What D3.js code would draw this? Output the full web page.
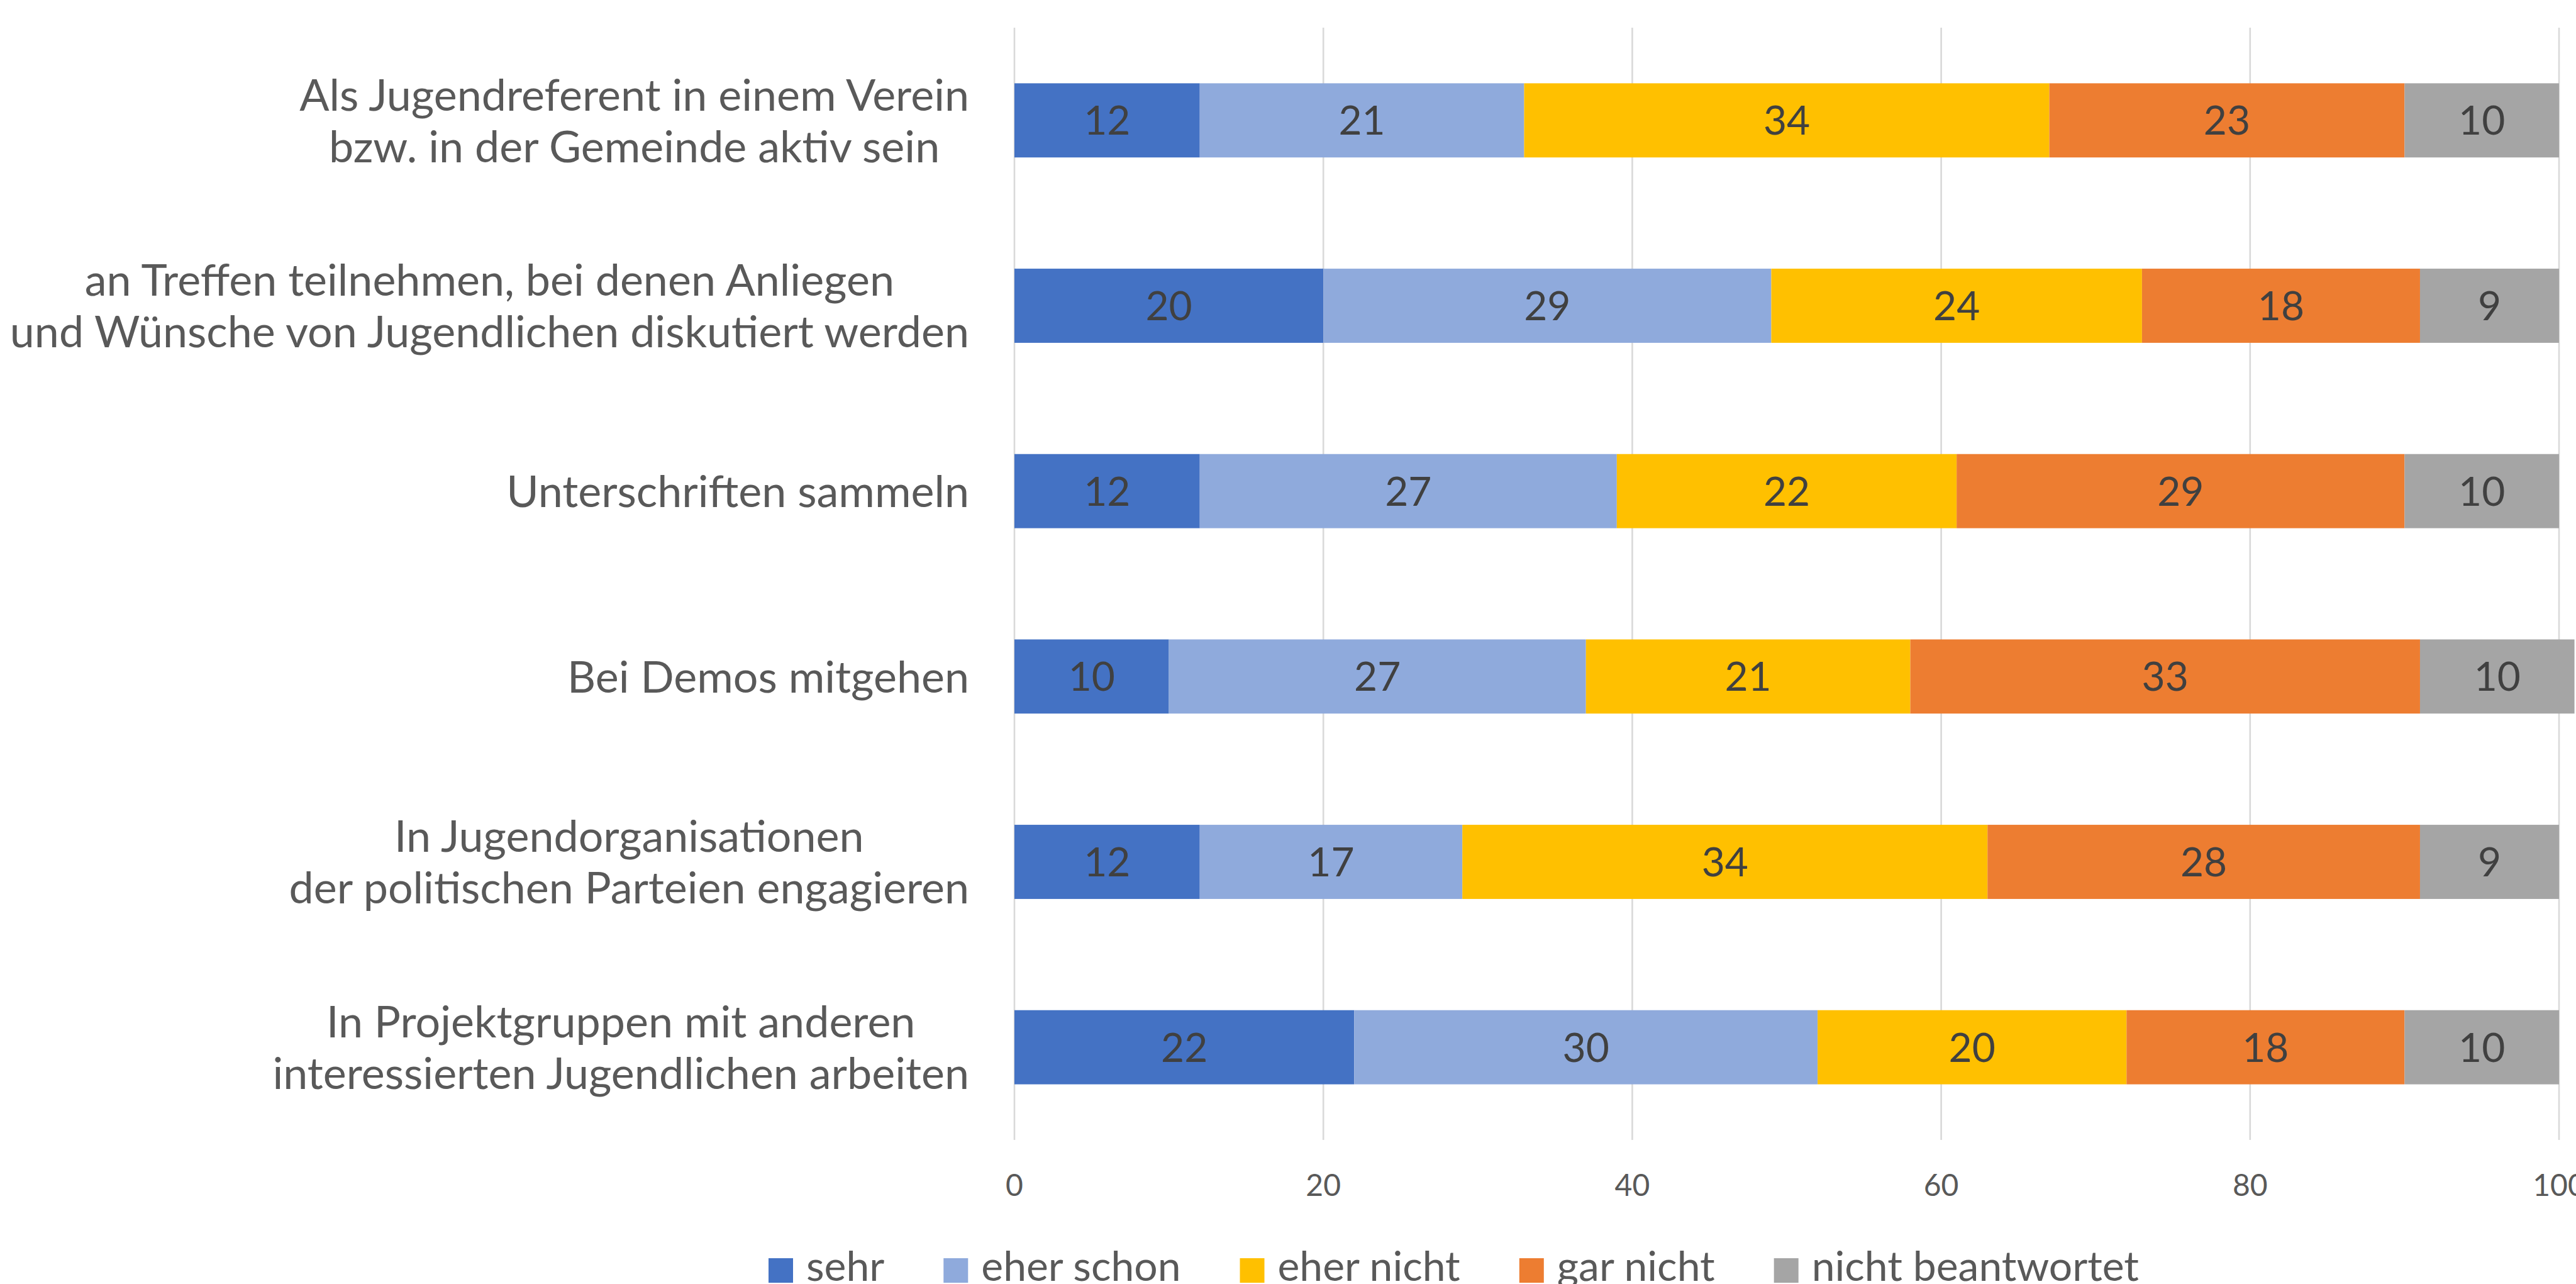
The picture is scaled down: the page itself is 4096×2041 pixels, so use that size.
<!DOCTYPE html>
<html><head><meta charset="utf-8">
<script src="https://cdn.jsdelivr.net/npm/d3@7"></script>
<style>html,body{margin:0;padding:0;background:#fff;overflow:hidden}</style>
</head><body>
<svg id="chart" width="4096" height="2041"></svg>
<script>
const categories = [
  ["Als Jugendreferent in einem Verein", "bzw. in der Gemeinde aktiv sein"],
  ["an Treffen teilnehmen, bei denen Anliegen", "und Wünsche von Jugendlichen diskutiert werden"],
  ["Unterschriften sammeln"],
  ["Bei Demos mitgehen"],
  ["In Jugendorganisationen", "der politischen Parteien engagieren"],
  ["In Projektgruppen mit anderen", "interessierten Jugendlichen arbeiten"]
];
const seriesNames = ["sehr", "eher schon", "eher nicht", "gar nicht", "nicht beantwortet"];
const seriesColors = ["#4472C4", "#8FAADC", "#FFC000", "#ED7D31", "#A5A5A5"];
const sehr = [12, 20, 12, 10, 12, 22];
const eherSchon = [21, 29, 27, 27, 17, 30];
const eherNicht = [34, 24, 22, 21, 34, 20];
const garNicht = [23, 18, 29, 33, 28, 18];
const nichtBeantwortet = [10, 9, 10, 10, 9, 10];
const tickValues = [0, 20, 40, 60, 80, 100];

const FONT = "Lato, 'Open Sans', sans-serif";
const svg = d3.select("#chart");
const W = 4096, H = 2041;
svg.append("rect").attr("width", W).attr("height", H).attr("fill", "#fff");

const x = d3.scaleLinear().domain([0, 100]).range([1613, 4069]);
const y = d3.scaleBand().domain(d3.range(categories.length)).range([44, 1812]).paddingInner(0.6).paddingOuter(0.3);

// gridlines
svg.append("g").selectAll("line").data(tickValues).join("line")
  .attr("x1", d => x(d)).attr("x2", d => x(d))
  .attr("y1", 44).attr("y2", 1812)
  .attr("stroke", "#d9d9d9").attr("stroke-width", 2.6);

// stacked data
const allSeries = [sehr, eherSchon, eherNicht, garNicht, nichtBeantwortet];
const rows = categories.map((c, i) => {
  const o = {idx: i};
  seriesNames.forEach((s, j) => o[s] = allSeries[j][i]);
  return o;
});
const stack = d3.stack().keys(seriesNames)(rows);

const gBars = svg.append("g");
stack.forEach((layer, j) => {
  const g = gBars.append("g").attr("fill", seriesColors[j]);
  g.selectAll("rect").data(layer).join("rect")
    .attr("x", d => x(d[0]))
    .attr("width", d => x(d[1]) - x(d[0]))
    .attr("y", (d, i) => y(i))
    .attr("height", y.bandwidth());
  g.selectAll("text").data(layer).join("text")
    .attr("x", d => (x(d[0]) + x(d[1])) / 2)
    .attr("y", (d, i) => y(i) + y.bandwidth() / 2)
    .attr("dy", "0.36em")
    .attr("text-anchor", "middle")
    .attr("font-family", FONT).attr("font-size", 64)
    .attr("fill", "#404040")
    .text(d => d[1] - d[0]);
});

// x tick labels
svg.append("g").selectAll("text").data(tickValues).join("text")
  .attr("x", d => x(d)).attr("y", 1884).attr("dy", "0.36em")
  .attr("text-anchor", "middle")
  .attr("font-family", FONT).attr("font-size", 48).attr("fill", "#595959")
  .text(d => d);

// category labels (block right-aligned, lines centered within block)
const labelRight = 1541;
const lineGap = 82;
const gLab = svg.append("g");
categories.forEach((lines, i) => {
  const cy = y(i) + y.bandwidth() / 2;
  const g = gLab.append("g");
  const texts = lines.map((t, k) => g.append("text")
    .attr("y", cy + (k - (lines.length - 1) / 2) * lineGap)
    .attr("dy", "0.36em")
    .attr("font-family", FONT).attr("font-size", 70).attr("fill", "#595959")
    .attr("text-anchor", "middle")
    .text(t));
  const maxW = d3.max(texts, t => t.node().getComputedTextLength());
  texts.forEach(t => t.attr("x", labelRight - maxW / 2));
});

// legend
const gLeg = svg.append("g");
let lx = 1222;
seriesNames.forEach((s, j) => {
  gLeg.append("rect").attr("x", lx).attr("y", 2000).attr("width", 39).attr("height", 39).attr("fill", seriesColors[j]);
  const t = gLeg.append("text").attr("x", lx + 60).attr("y", 2036)
    .attr("font-family", FONT).attr("font-size", 66).attr("fill", "#595959").text(s);
  lx += 60 + t.node().getComputedTextLength() + 94;
});
</script>
</body></html>
